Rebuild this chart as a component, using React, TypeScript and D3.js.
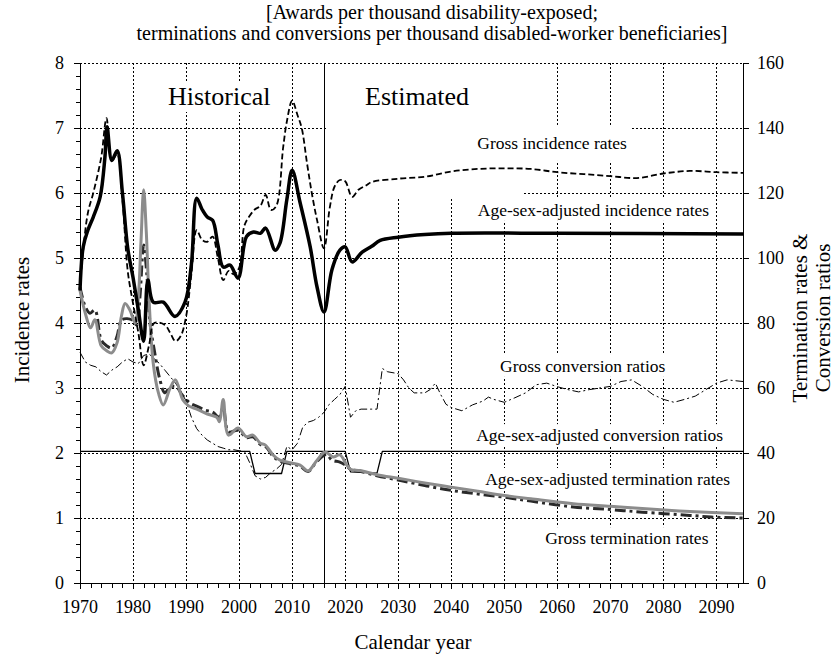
import React, { useEffect, useRef } from 'react';
import * as d3 from 'd3';

// ---------- DATA ----------
const xTickYears = [1970, 1980, 1990, 2000, 2010, 2020, 2030, 2040, 2050, 2060, 2070, 2080, 2090];
const leftTicks = [0, 1, 2, 3, 4, 5, 6, 7, 8];
const rightTicks = [0, 20, 40, 60, 80, 100, 120, 140, 160];

// Age-sex-adjusted incidence rates (left axis)
const asIncYears = [1970, 1970.6, 1971.5, 1972.5, 1973.8, 1974.7, 1975.1, 1976, 1977, 1978, 1979, 1980, 1981, 1982, 1982.8, 1983.8, 1985.7, 1987.9, 1989.8, 1991, 1992, 1993, 1994, 1995, 1996, 1997, 1998.3, 1999.8, 2001.4, 2002.7, 2004, 2005, 2006.8, 2007.7, 2009, 2010, 2011.5, 2013.4, 2014.7, 2016, 2017.5, 2019, 2020, 2021.3, 2023.2, 2025, 2026.6, 2030, 2035, 2040, 2060, 2095];
const asIncValues = [4.5, 5.17, 5.43, 5.63, 5.94, 6.55, 7.02, 6.5, 6.65, 6.0, 5.15, 4.7, 4.2, 3.72, 4.66, 4.32, 4.32, 4.1, 4.32, 4.9, 5.92, 5.75, 5.63, 5.58, 5.2, 4.86, 4.89, 4.69, 5.33, 5.4, 5.38, 5.46, 5.12, 5.23, 5.9, 6.35, 5.85, 5.17, 4.55, 4.17, 4.82, 5.12, 5.17, 4.94, 5.09, 5.18, 5.27, 5.32, 5.36, 5.38, 5.38, 5.37];

// Gross incidence rates (left axis)
const grIncYears = [1970, 1970.6, 1971.5, 1972.5, 1974, 1975, 1976, 1977, 1978, 1979, 1980, 1981, 1982, 1983, 1984, 1986, 1987, 1988, 1989, 1990, 1991, 1992, 1993, 1994, 1995, 1996, 1997, 1998, 1999, 2000, 2001, 2002, 2003, 2004, 2005, 2006, 2007, 2008.3, 2009, 2010, 2011, 2011.8, 2012.8, 2013.7, 2014.7, 2016, 2017.1, 2018, 2019, 2020, 2021.3, 2022.5, 2024, 2025, 2030, 2035, 2040, 2045, 2050, 2055, 2060, 2065, 2070, 2075, 2080, 2085, 2090, 2095];
const grIncValues = [4.55, 5.12, 5.7, 6.0, 6.55, 7.15, 6.5, 6.6, 5.9, 4.8, 4.3, 3.85, 3.35, 3.65, 4.0, 3.97, 3.85, 3.72, 3.8, 4.1, 4.75, 5.43, 5.28, 5.25, 5.33, 5.0, 4.66, 4.8, 4.75, 4.85, 5.5, 5.65, 5.75, 5.8, 5.97, 5.74, 5.8, 6.7, 7.1, 7.42, 7.2, 7.0, 6.46, 6.0, 5.58, 5.15, 5.78, 6.1, 6.2, 6.18, 5.94, 6.05, 6.12, 6.17, 6.22, 6.25, 6.33, 6.37, 6.38, 6.37, 6.32, 6.29, 6.26, 6.23, 6.3, 6.34, 6.32, 6.31];

// Gross conversion ratios (right axis)
const grConvYears = [1970, 1971, 1972, 1973, 1974, 1975, 1976, 1977, 1978, 1979, 1980, 1981, 1982, 1983, 1984, 1985, 1986, 1987, 1988, 1989, 1990, 1991, 1992, 1993, 1994, 1995, 1996, 1997, 1998, 1999, 2000, 2001, 2002, 2003, 2004, 2005, 2006, 2007, 2008, 2009, 2010, 2011, 2012, 2013, 2014, 2015, 2016, 2017, 2018, 2019, 2020, 2021, 2022, 2023, 2025, 2026, 2027, 2028, 2030, 2031, 2032, 2033, 2035, 2036, 2037, 2038, 2039, 2040, 2042, 2044, 2046, 2047, 2048, 2050, 2052, 2054, 2056, 2058, 2060, 2062, 2064, 2066, 2068, 2070, 2072, 2074, 2076, 2078, 2080, 2082, 2084, 2086, 2088, 2090, 2092, 2095];
const grConvValues = [71, 68, 67, 66.5, 65, 64, 65.5, 66.5, 68, 69, 68, 67.5, 70, 70.5, 69, 67.5, 65.5, 63.5, 61.5, 59, 56, 51, 47.5, 45.5, 44, 43, 42, 41.5, 41, 41, 40.7, 40.5, 37, 33, 32, 32.5, 34, 35, 36.5, 42, 41, 43, 48, 49.5, 50, 51, 52.5, 55, 56.5, 58, 60.5, 51, 53, 53.5, 53.5, 53.5, 66, 65, 64.4, 62.5, 60, 58.5, 58.5, 59.5, 61.5, 58, 55, 54, 53, 54.8, 56, 57.2, 56.5, 55.6, 57, 58.5, 61, 61.5, 60.4, 59.5, 58.8, 59.5, 60, 60.5, 62, 62.5, 60.5, 58, 56.5, 55.6, 56.5, 57.5, 59.5, 61.5, 62.5, 62];

// Age-sex-adjusted conversion ratios (right axis)
const asConvYears = [1970, 2002, 2003, 2008, 2009, 2020, 2021, 2026, 2027, 2095];
const asConvValues = [40.5, 40.5, 33.7, 33.7, 40.5, 40.5, 34.2, 33.8, 40.5, 40.5];

// Age-sex-adjusted termination rates (right axis)
const asTermYears = [1970, 1971, 1972, 1972.8, 1974, 1975, 1976, 1977, 1977.8, 1978.5, 1979.4, 1980.4, 1981, 1981.5, 1982, 1982.5, 1983, 1983.8, 1984.8, 1985.7, 1987, 1988, 1989.4, 1990.5, 1992, 1994, 1995.8, 1996.3, 1997, 1998, 1999.8, 2001.4, 2002.6, 2004, 2004.9, 2006.4, 2007.7, 2009.6, 2011.5, 2013, 2014.7, 2016.2, 2017.7, 2019, 2020.3, 2021, 2022.8, 2026, 2030, 2035, 2040, 2045, 2050, 2055, 2063, 2070, 2076, 2085, 2095];
const asTermValues = [90, 83, 78.5, 81, 73, 71.5, 70.8, 74, 82, 86, 84, 80, 88, 105, 121, 108, 88, 67.7, 58.4, 54.8, 60, 62.5, 56.3, 54.5, 53.5, 52, 51, 49.6, 56.5, 45.5, 47.7, 45, 45.5, 43, 42.5, 39.4, 37.8, 37, 36.3, 34.5, 37.8, 40.3, 38.8, 39.4, 36.3, 35, 34.6, 33.3, 32.2, 30.8, 29.5, 28.2, 26.9, 25.9, 24.4, 23.6, 22.9, 22.0, 21.3];

// Gross termination rates (right axis)
const grTermYears = [1970, 1971, 1971.9, 1972.8, 1974, 1975, 1976, 1977, 1977.9, 1979.8, 1980.7, 1981.3, 1982, 1982.6, 1983.2, 1984, 1985, 1986, 1987, 1988.2, 1989.2, 1990.7, 1992.3, 1993.6, 1995, 1996.2, 1997, 1998, 1999.8, 2001.4, 2002.6, 2004, 2005, 2006.4, 2007.7, 2009.6, 2011.5, 2013, 2014.7, 2016.5, 2017.5, 2019, 2020.3, 2021, 2022.8, 2026, 2030, 2035, 2040, 2045, 2050, 2055, 2063, 2070, 2076, 2085, 2089, 2095];
const grTermValues = [91, 85, 83, 84, 74.8, 73, 72.3, 76, 81, 81, 79.4, 88, 104, 95, 80, 71.7, 63, 58.5, 60.3, 60.3, 58, 55.4, 54.2, 53.2, 52.6, 51, 54, 46.5, 47, 44.7, 45, 42.6, 42, 39, 37.5, 36.7, 36, 34.3, 37.5, 39.5, 37.8, 37.2, 36, 35, 34.4, 33, 31.7, 30, 28.5, 27.4, 26.4, 25.2, 23.4, 22.6, 21.8, 20.8, 20.3, 20.0];

const projectionStart = 2016;

const seriesLabels = [
  'Gross incidence rates',
  'Age-sex-adjusted incidence rates',
  'Gross conversion ratios',
  'Age-sex-adjusted conversion ratios',
  'Age-sex-adjusted termination rates',
  'Gross termination rates',
];
// label anchors: [year at left edge, right-axis value at vertical centre]
const labelYears = [2044.9, 2045.0, 2049.2, 2044.7, 2046.4, 2057.7];
const labelValues = [135.4, 114.8, 66.8, 45.5, 32.0, 13.8];
// extra vertical padding of each label's white box
const labelPadY = [8, 1, 1, 1, 1, 1];

const FONT = '"Liberation Serif", "Times New Roman", "DejaVu Serif", serif';

export default function App() {
  const ref = useRef<SVGSVGElement>(null);

  useEffect(() => {
    const svg = d3.select(ref.current);
    svg.selectAll('*').remove();

    const x = d3.scaleLinear().domain([1970, 2095]).range([80, 743]);
    const yL = d3.scaleLinear().domain([0, 8]).range([583, 63]);
    const yR = d3.scaleLinear().domain([0, 160]).range([583, 63]);
    const [x0, x1] = x.range();
    const [yb, yt] = yL.range();

    const g = svg.append('g');

    // subtitle
    const sub = g.append('g').attr('font-family', FONT).attr('font-size', 20).attr('text-anchor', 'middle');
    sub.append('text').attr('x', 432).attr('y', 19).text('[Awards per thousand disability-exposed;');
    sub.append('text').attr('x', 432).attr('y', 40).text('terminations and conversions per thousand disabled-worker beneficiaries]');

    // grid
    const grid = g.append('g').attr('stroke', '#000').attr('stroke-width', 1).attr('stroke-dasharray', '2,2').attr('shape-rendering', 'crispEdges');
    leftTicks.filter(v => v > 0).forEach(v => {
      grid.append('line').attr('x1', x0).attr('x2', x1).attr('y1', Math.round(yL(v)) + 0.5).attr('y2', Math.round(yL(v)) + 0.5);
    });
    xTickYears.filter(v => v > 1970).forEach(v => {
      grid.append('line').attr('x1', Math.round(x(v)) + 0.5).attr('x2', Math.round(x(v)) + 0.5).attr('y1', yt).attr('y2', yb);
    });

    // label boxes + texts
    const labelLayer = g.append('g');
    const textLayer = g.append('g').attr('font-family', FONT);

    const addLabel = (txt: string, lx: number, ly: number, size: number, padY = 1) => {
      const t = textLayer.append('text').attr('x', lx).attr('y', ly).attr('font-size', size).text(txt);
      const bb = (t.node() as SVGTextElement).getBBox();
      labelLayer.append('rect').attr('x', bb.x - 3).attr('y', bb.y - padY).attr('width', bb.width + 6).attr('height', bb.height + 2 * padY).attr('fill', '#fff');
    };

    addLabel('Historical', 168, 105, 26);
    addLabel('Estimated', 365, 105, 26);
    // the "Estimated" text box is larger than its text
    labelLayer.append('rect')
      .attr('x', x(projectionStart) + 2).attr('y', yt + 1)
      .attr('width', x(2053.5) - x(projectionStart) - 2).attr('height', yL(6) - yt + 4)
      .attr('fill', '#fff');
    seriesLabels.forEach((s, i) => {
      addLabel(s, x(labelYears[i]), yR(labelValues[i]) + 6, 17.5, labelPadY[i]);
    });

    // axes lines
    const axes = g.append('g').attr('stroke', '#000').attr('stroke-width', 1).attr('shape-rendering', 'crispEdges');
    axes.append('line').attr('x1', x0 + 0.5).attr('x2', x0 + 0.5).attr('y1', yt).attr('y2', yb);
    axes.append('line').attr('x1', x1 + 0.5).attr('x2', x1 + 0.5).attr('y1', yt).attr('y2', yb);
    axes.append('line').attr('x1', x0).attr('x2', x1).attr('y1', yb + 0.5).attr('y2', yb + 0.5);
    axes.append('line').attr('x1', Math.round(x(projectionStart)) + 0.5).attr('x2', Math.round(x(projectionStart)) + 0.5).attr('y1', yt).attr('y2', yb);

    // ticks
    d3.range(0, 8.001, 0.2).forEach(v => {
      const major = Math.abs(v - Math.round(v)) < 1e-6;
      const yy = Math.round(yL(v)) + 0.5;
      axes.append('line').attr('x1', x0 - (major ? 6 : 4)).attr('x2', x0).attr('y1', yy).attr('y2', yy);
    });
    rightTicks.forEach(v => {
      const yy = Math.round(yR(v)) + 0.5;
      axes.append('line').attr('x1', x1).attr('x2', x1 + 6).attr('y1', yy).attr('y2', yy);
    });
    d3.range(1970, 2095.01, 2).forEach(v => {
      const major = v % 10 === 0;
      const xx = Math.round(x(v)) + 0.5;
      axes.append('line').attr('x1', xx).attr('x2', xx).attr('y1', yb).attr('y2', yb + (major ? 6 : 5));
    });

    // tick labels
    const tl = g.append('g').attr('font-family', FONT).attr('font-size', 18);
    leftTicks.forEach(v => {
      tl.append('text').attr('x', 64).attr('y', yL(v) + 6).attr('text-anchor', 'end').text(v);
    });
    rightTicks.forEach(v => {
      tl.append('text').attr('x', 757).attr('y', yR(v) + 6).attr('text-anchor', 'start').text(v);
    });
    xTickYears.forEach(v => {
      tl.append('text').attr('x', x(v)).attr('y', 613).attr('text-anchor', 'middle').text(v);
    });

    // axis titles
    const at = g.append('g').attr('font-family', FONT).attr('font-size', 21).attr('text-anchor', 'middle');
    at.append('text').attr('transform', `translate(29,320) rotate(-90)`).text('Incidence rates');
    at.append('text').attr('transform', `translate(807,318) rotate(-90)`).text('Termination rates &');
    at.append('text').attr('transform', `translate(830,318) rotate(-90)`).text('Conversion ratios');
    at.append('text').attr('x', 413).attr('y', 649).text('Calendar year');

    // series
    const lines = g.append('g').attr('fill', 'none');
    const smooth = d3.curveCatmullRom.alpha(0.5);
    const draw = (ys: number[], vs: number[], yScale: any, curve: any, stroke: string, width: number, dash: string | null) => {
      const line = d3.line<number>().x((_, i) => x(ys[i])).y(d => yScale(d)).curve(curve);
      const p = lines.append('path').attr('d', line(vs)).attr('stroke', stroke).attr('stroke-width', width).attr('stroke-linejoin', 'round');
      if (dash) p.attr('stroke-dasharray', dash);
    };

    draw(grConvYears, grConvValues, yR, d3.curveLinear, '#000', 1, '8,3,2,3');
    draw(asConvYears, asConvValues, yR, d3.curveLinear, '#000', 1.3, null);
    draw(grTermYears, grTermValues, yR, smooth, '#2a2a2a', 3, '11,4,3,4');
    draw(asTermYears, asTermValues, yR, smooth, '#8c8c8c', 3, null);
    draw(grIncYears, grIncValues, yL, smooth, '#000', 1.8, '6,3');
    draw(asIncYears, asIncValues, yL, smooth, '#000', 3.5, null);

    textLayer.raise();
  }, []);

  return (
    <svg ref={ref} width={835} height={657} style={{ position: 'absolute', left: 0, top: 0, background: '#fff' }} />
  );
}
